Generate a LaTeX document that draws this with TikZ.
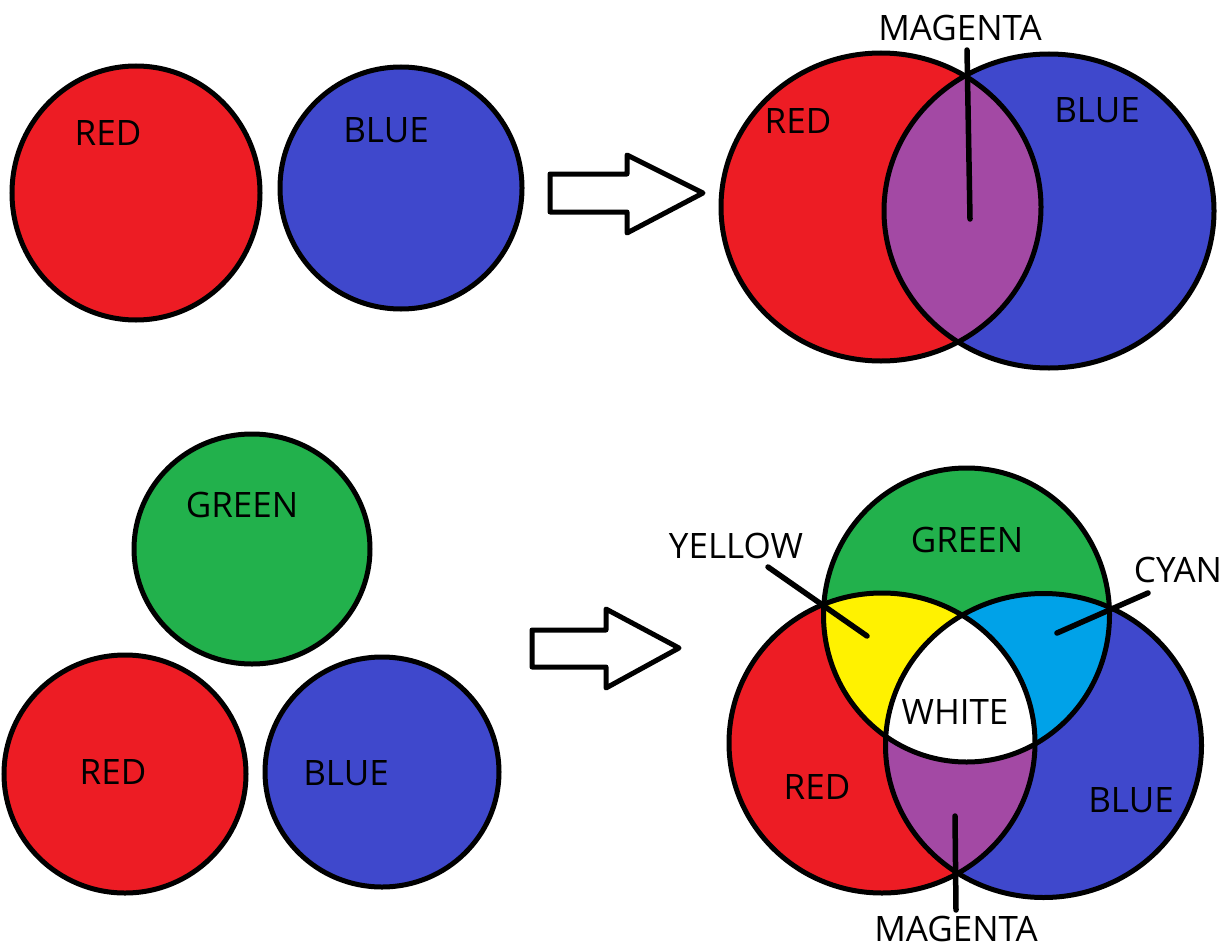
\documentclass[tikz,border=0pt]{standalone}
\usepackage{fontspec}
\setmainfont{Open Sans}
\definecolor{pred}{HTML}{ED1C24}
\definecolor{pblue}{HTML}{3F48CC}
\definecolor{pgreen}{HTML}{22B14C}
\definecolor{pyellow}{HTML}{FFF200}
\definecolor{pcyan}{HTML}{00A2E8}
\definecolor{pmag}{HTML}{A349A4}
\begin{document}
\begin{tikzpicture}[x=1pt,y=-1pt,
  outline/.style={draw=black,line width=5pt},
  lbl/.style={inner sep=0pt,font=\fontsize{35}{42}\selectfont},
  leader/.style={draw=black,line width=5.5pt,line cap=round},
  blockarrow/.style={draw=black,fill=white,line width=5pt,line join=round}]
\useasboundingbox (0,0) rectangle (1223,950);

% ---- top left: two separate discs
\filldraw[fill=pred,outline] (136,193) ellipse [x radius=124pt, y radius=127pt];
\filldraw[fill=pblue,outline] (401,188) ellipse [x radius=121pt, y radius=121pt];
\node[lbl] (tlred) at (108,133) {RED};
\node[lbl] (tlblue) at (386,130) {BLUE};

% ---- top arrow
\draw[blockarrow] (550,174) -- (627,174) -- (627,155) -- (703,193)
  -- (627,233) -- (627,212) -- (550,212) -- cycle;

% ---- top right: red + blue overlap
\def\vr{(881,207) ellipse [x radius=160pt, y radius=154pt]}
\def\vb{(1049,211) ellipse [x radius=165pt, y radius=157pt]}
\fill[pred] \vr;
\fill[pblue] \vb;
\begin{scope}
  \clip \vr;
  \fill[pmag] \vb;
\end{scope}
\draw[outline] \vr;
\draw[outline] \vb;
\node[lbl] (trred) at (798,121) {RED};
\node[lbl] (trblue) at (1097,110) {BLUE};
\node[lbl] (trmag) at (960,28) {MAGENTA};
\coordinate (trmagA) at (967,50);
\coordinate (trmagB) at (970,219);
\draw[leader] (trmagA) -- (trmagB);

% ---- bottom left: three separate discs
\filldraw[fill=pgreen,outline] (252,549) ellipse [x radius=118pt, y radius=115pt];
\filldraw[fill=pred,outline] (125,774) ellipse [x radius=121pt, y radius=119pt];
\filldraw[fill=pblue,outline] (382,772) ellipse [x radius=117pt, y radius=115pt];
\node[lbl] (blgreen) at (242,505) {GREEN};
\node[lbl] (blred) at (113,772) {RED};
\node[lbl] (blblue) at (346,773) {BLUE};

% ---- bottom arrow
\draw[blockarrow] (532,630) -- (606,630) -- (606,609) -- (679,648)
  -- (606,688) -- (606,667) -- (532,667) -- cycle;

% ---- bottom right: three-way overlap
\def\cg{(966.5,615) ellipse [x radius=143pt, y radius=147pt]}
\def\cr{(882,743) ellipse [x radius=153pt, y radius=150pt]}
\def\cb{(1043.5,745.5) ellipse [x radius=158pt, y radius=152pt]}
\fill[pred] \cr;
\fill[pblue] \cb;
\fill[pgreen] \cg;
% red with green gives yellow, red with blue gives magenta, all three white
\begin{scope}
  \clip \cr;
  \fill[pyellow] \cg;
  \fill[pmag] \cb;
  \clip \cg;
  \fill[white] \cb;
\end{scope}
% green with blue gives cyan
\begin{scope}
  \clip \cg;
  \fill[pcyan] \cb;
  \clip \cr;
  \fill[white] \cb;
\end{scope}
\draw[outline] \cg;
\draw[outline] \cr;
\draw[outline] \cb;
\node[lbl] (brgreen) at (967,540) {GREEN};
\node[lbl] (bryellow) at (736,546) {YELLOW};
\node[lbl] (brcyan) at (1178,570) {CYAN};
\node[lbl] (brwhite) at (955,712) {WHITE};
\node[lbl] (brred) at (817,787) {RED};
\node[lbl] (brblue) at (1131,800) {BLUE};
\node[lbl] (brmag) at (956,929) {MAGENTA};
\coordinate (yelA) at (768,567);
\coordinate (yelB) at (867,636);
\coordinate (cyaA) at (1148,593);
\coordinate (cyaB) at (1057,633);
\coordinate (magA) at (955,816);
\coordinate (magB) at (956,910);
\draw[leader] (yelA) -- (yelB);
\draw[leader] (cyaA) -- (cyaB);
\draw[leader] (magA) -- (magB);
\end{tikzpicture}
\end{document}
